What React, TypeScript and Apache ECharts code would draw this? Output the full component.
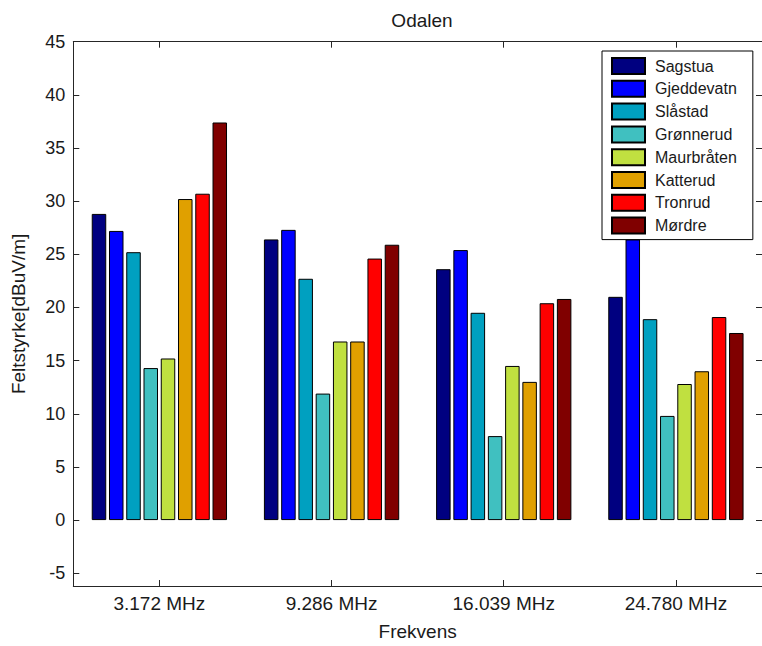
import React, { useEffect, useRef } from "react";
import * as echarts from "echarts";

const frequencies = ["3.172 MHz", "9.286 MHz", "16.039 MHz", "24.780 MHz"];
const stations = ["Sagstua", "Gjeddevatn", "Slåstad", "Grønnerud", "Maurbråten", "Katterud", "Tronrud", "Mørdre"];
const sagstua = [28.8, 26.4, 23.6, 21.0];
const gjeddevatn = [27.2, 27.3, 25.4, 26.4];
const slastad = [25.2, 22.7, 19.5, 18.9];
const gronnerud = [14.3, 11.9, 7.9, 9.8];
const maurbraten = [15.2, 16.8, 14.5, 12.8];
const katterud = [30.2, 16.8, 13.0, 14.0];
const tronrud = [30.7, 24.6, 20.4, 19.1];
const mordre = [37.4, 25.9, 20.8, 17.6];
const stationValues = [sagstua, gjeddevatn, slastad, gronnerud, maurbraten, katterud, tronrud, mordre];
const stationColors = ["#000080", "#0000FF", "#00A0C0", "#40C0C0", "#C0E040", "#E0A000", "#FF0000", "#800000"];
const yTicks = [-5, 0, 5, 10, 15, 20, 25, 30, 35, 40, 45];

const FONT = "'Liberation Sans', Arial, sans-serif";
const AXIS_COLOR = "#262626";

export default function App() {
  const ref = useRef<HTMLDivElement>(null);
  useEffect(() => {
    if (!ref.current) return;
    const chart = echarts.init(ref.current, null, { renderer: "svg" });
    const option: any = {
      animation: false,
      backgroundColor: "#ffffff",
      textStyle: { fontFamily: FONT },
      title: {
        text: "Odalen",
        left: 417,
        top: 6,
        textAlign: "center",
        textStyle: { fontFamily: FONT, fontSize: 19, fontWeight: "normal", color: "#1a1a1a" },
      },
      legend: {
        orient: "vertical",
        left: 602,
        top: 51,
        padding: [6, 16, 5, 9],
        itemWidth: 33,
        itemHeight: 16,
        itemGap: 4.8,
        backgroundColor: "#ffffff",
        borderColor: "#000000",
        borderWidth: 1,
        borderRadius: 0,
        icon: "rect",
        data: stations,
        textStyle: { fontFamily: FONT, fontSize: 16, lineHeight: 16, color: "#1a1a1a", padding: [0, 0, 0, 5] },
      },
      grid: { left: 73.3, top: 41.7, right: -5.5, bottom: 56.7, containLabel: false },
      xAxis: [
        {
          type: "category",
          data: frequencies,
          position: "bottom",
          name: "Frekvens",
          nameLocation: "middle",
          nameGap: 36,
          nameTextStyle: { fontFamily: FONT, fontSize: 19, color: "#1a1a1a" },
          axisLine: { show: true, onZero: false, lineStyle: { color: AXIS_COLOR, width: 1 } },
          axisTick: { show: true, inside: true, length: 6, alignWithLabel: true, lineStyle: { color: AXIS_COLOR } },
          axisLabel: { fontFamily: FONT, fontSize: 19, color: "#1a1a1a", margin: 8 },
          splitLine: { show: false },
        },
        {
          type: "category",
          data: frequencies,
          position: "top",
          axisLine: { show: true, onZero: false, lineStyle: { color: AXIS_COLOR, width: 1 } },
          axisTick: { show: true, inside: true, length: 6, alignWithLabel: true, lineStyle: { color: AXIS_COLOR } },
          axisLabel: { show: false },
          splitLine: { show: false },
        },
      ],
      yAxis: [
        {
          type: "value",
          min: -6.2,
          max: 45,
          position: "left",
          name: "Feltstyrke[dBuV/m]",
          nameLocation: "middle",
          nameGap: 45,
          nameRotate: 90,
          nameTextStyle: { fontFamily: FONT, fontSize: 19, color: "#1a1a1a" },
          axisLine: { show: true, onZero: false, lineStyle: { color: AXIS_COLOR, width: 1 } },
          axisTick: { show: true, inside: true, length: 6, customValues: yTicks, lineStyle: { color: AXIS_COLOR } },
          axisLabel: { fontFamily: FONT, fontSize: 18, color: "#1a1a1a", margin: 8, customValues: yTicks },
          splitLine: { show: false },
        },
        {
          type: "value",
          min: -6.2,
          max: 45,
          position: "right",
          axisLine: { show: true, onZero: false, lineStyle: { color: AXIS_COLOR, width: 1 } },
          axisTick: { show: true, inside: true, length: 6, customValues: yTicks, lineStyle: { color: AXIS_COLOR } },
          axisLabel: { show: false },
          splitLine: { show: false },
        },
      ],
      series: stations.map((name, i) => ({
        name,
        type: "bar",
        xAxisIndex: 0,
        yAxisIndex: 0,
        data: stationValues[i],
        barWidth: 14.5,
        barGap: "19%",
        itemStyle: { color: stationColors[i], borderColor: "#000000", borderWidth: 1 },
        emphasis: { disabled: true },
      })),
    };
    chart.setOption(option);
    return () => chart.dispose();
  }, []);
  return (
    <div
      ref={ref}
      style={{ position: "fixed", left: 0, top: 0, width: 762, height: 646, background: "#fff" }}
    />
  );
}
